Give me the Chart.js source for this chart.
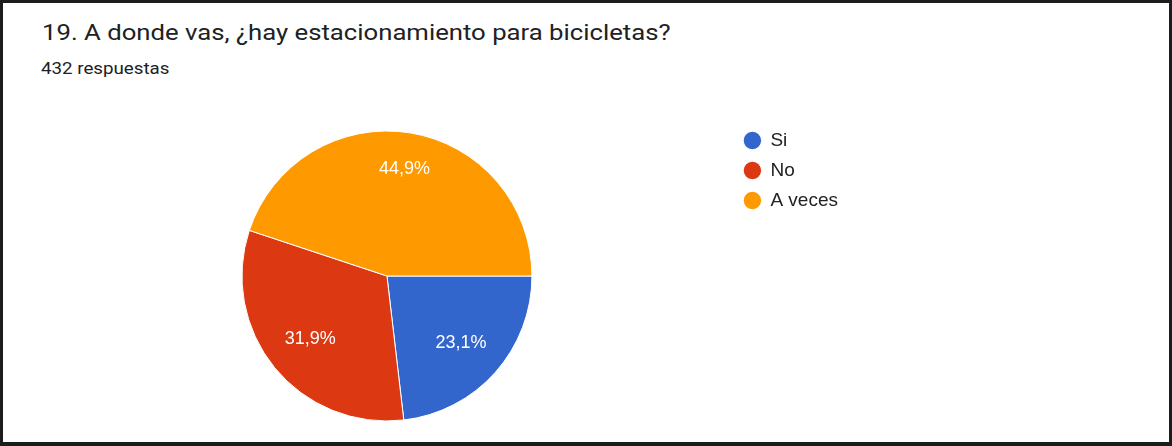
<!DOCTYPE html>
<html>
<head>
<meta charset="utf-8">
<script src="https://cdn.jsdelivr.net/npm/chart.js@4.4.0/dist/chart.umd.min.js"></script>
<style>
  html, body { margin: 0; padding: 0; background: #fff; }
  #frame {
    position: absolute; left: 0; top: 0; width: 1172px; height: 446px;
    box-sizing: border-box; border: 3px solid #1c1c1c; border-bottom-width: 4px;
    background: #fff; overflow: hidden;
  }
  #title {
    position: absolute; left: 39px; top: 19px; font: 22px Roboto, Arial, sans-serif;
    line-height: 22px; color: #202124; white-space: nowrap;
    transform: scaleX(1.168); transform-origin: left top;
  }
  #subtitle {
    position: absolute; left: 38px; top: 58px; font: 16px Roboto, Arial, sans-serif;
    line-height: 16px; color: #202124; white-space: nowrap;
    transform: scaleX(1.17); transform-origin: left top;
  }
  #wrap { position: absolute; left: -3px; top: -3px; width: 1172px; height: 446px; }
</style>
</head>
<body>
<div id="frame">
  <div id="title">19. A donde vas, ¿hay estacionamiento para bicicletas?</div>
  <div id="subtitle">432 respuestas</div>
  <div id="wrap"><canvas id="mycanvas" width="1172" height="446"></canvas></div>
</div>
<script>
var categories = ['Si', 'No', 'A veces'];
var counts = [100, 138, 194];
var colors = ['#3366cc', '#dc3912', '#ff9900'];

var total = counts.reduce(function(a, b){ return a + b; }, 0);

// percent labels, placed so the outer corner of the text sits near the rim
var pctLabels = {
	id: 'pctLabels',
	afterDatasetsDraw: function(chart){
		var ctx = chart.ctx;
		var meta = chart.getDatasetMeta(0);
		ctx.save();
		ctx.font = '18px Arial, "Liberation Sans", sans-serif';
		ctx.fillStyle = '#ffffff';
		ctx.textAlign = 'center';
		ctx.textBaseline = 'middle';
		meta.data.forEach(function(arc, i){
			var txt = (counts[i] / total * 100).toFixed(1).replace('.', ',') + '%';
			var mid = (arc.startAngle + arc.endAngle) / 2;
			var ux = Math.cos(mid), uy = Math.sin(mid);
			var hw = ctx.measureText(txt).width / 2, hh = 9;
			var a = (ux >= 0 ? 1 : -1) * hw, b = (uy >= 0 ? 1 : -1) * hh;
			var R = arc.outerRadius * 0.86;
			var p = ux * a + uy * b;
			var t = -p + Math.sqrt(p * p - (a * a + b * b - R * R));
			ctx.fillText(txt, arc.x + ux * t, arc.y + uy * t + 1);
		});
		ctx.restore();
	}
};

var chartdata = {
	labels: categories,
	datasets: [
		{
			data: counts,
			backgroundColor: colors,
			borderColor: '#ffffff',
			borderWidth: 1,
			radius: 145
		}
	]
};

var ctx = document.getElementById('mycanvas');
var pieChart = new Chart(ctx, {
	type: 'pie',
	data: chartdata,
	options: {
		responsive: false,
		animation: false,
		rotation: 90,
		layout: { padding: { left: 41, right: 324, top: 120, bottom: 14 } },
		plugins: {
			legend: {
				position: 'right',
				align: 'start',
				labels: {
					usePointStyle: true,
					pointStyle: 'circle',
					boxWidth: 17,
					boxHeight: 13,
					padding: 11,
					color: '#222222',
					font: { family: 'Arial, "Liberation Sans", sans-serif', size: 19 }
				}
			},
			tooltip: { enabled: false }
		}
	},
	plugins: [pctLabels]
});
</script>
</body>
</html>
